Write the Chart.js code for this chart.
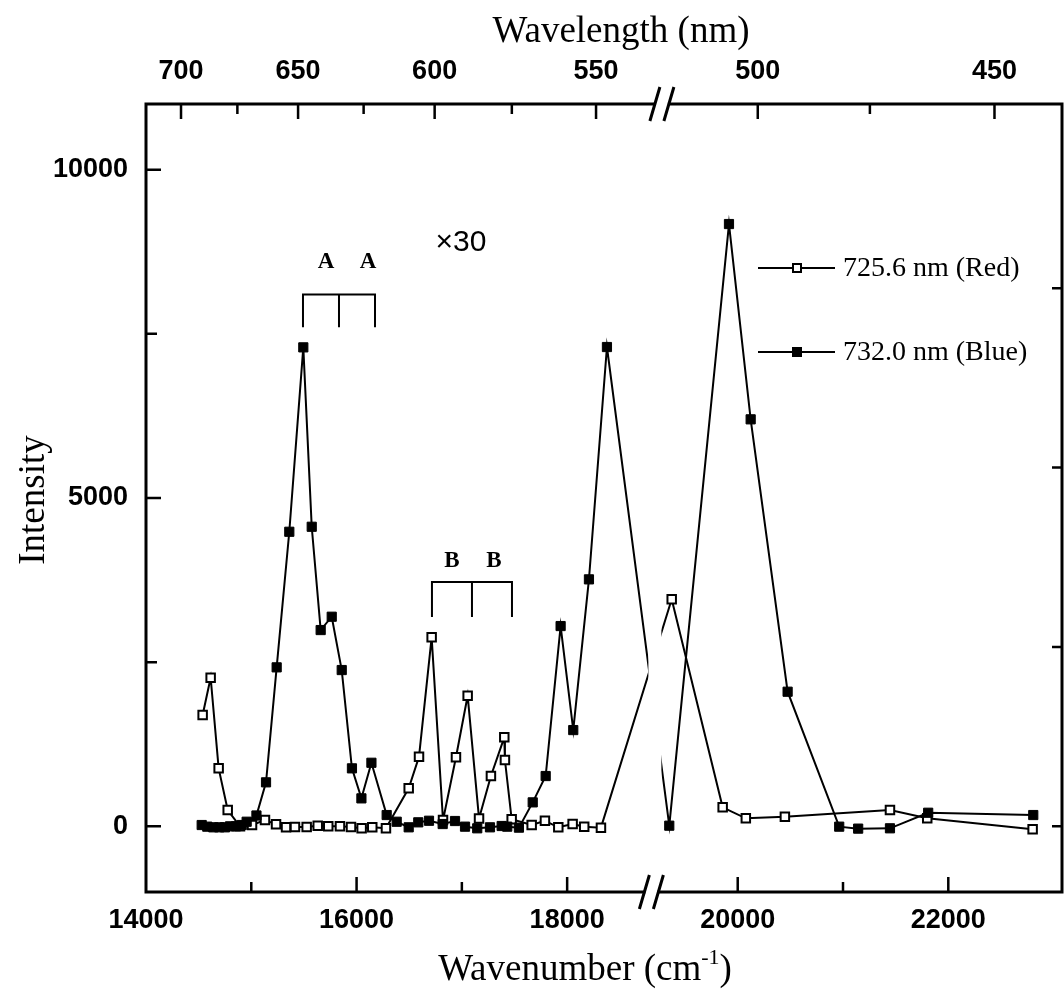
<!DOCTYPE html>
<html>
<head>
<meta charset="utf-8">
<title>Intensity vs wavenumber</title>
<script src="https://cdn.jsdelivr.net/npm/chart.js@4.4.1/dist/chart.umd.min.js"></script>
<style>
  html, body { margin: 0; padding: 0; background: #fff; }
</style>
</head>
<body>
<canvas id="spectrum" width="1064" height="996"></canvas>
<script>
// values: wavenumber (cm-1) and intensity
const redWavenumber = [14538, 14614, 14690, 14776, 14893, 15007, 15130, 15235, 15330, 15415, 15526, 15631, 15731, 15842,
    15947, 16048, 16149, 16279, 16495, 16593, 16713, 16821, 16944, 17055, 17163, 17276, 17403, 17409, 17473, 17663,
    17789, 17916, 18052, 18162, 18321, 19373, 19857, 20077, 20448, 21446, 21800, 22801];
const redIntensity = [1695, 2263, 883, 248, 0, 20, 96, 30, -15, -10, -10, 10, 0, 0,
    -10, -30, -15, -30, 579, 1060, 2878, 95, 1051, 1989, 120, 766, 1355, 1010, 107, 20,
    85, -15, 35, -5, -20, 3457, 289, 122, 146, 248, 122, -46];

const blueWavenumber = [14529, 14582, 14639, 14696, 14750, 14798, 14855, 14909, 14956, 15049, 15140, 15241, 15361, 15494,
    15574, 15659, 15764, 15859, 15956, 16046, 16141, 16286, 16381, 16495, 16586, 16688, 16818, 16935, 17030, 17146,
    17267, 17378, 17431, 17542, 17673, 17796, 17938, 18058, 18207, 18378, 19350, 19917, 20123, 20474, 20964, 21144,
    21446, 21809, 22807];
const blueIntensity = [20, -5, -15, -15, -15, 0, 0, 20, 70, 165, 670, 2421, 4486, 7294,
    4562, 2989, 3192, 2380, 883, 426, 968, 172, 70, -15, 61, 85, 35, 81, -5, -30,
    -15, 5, -5, -20, 365, 766, 3050, 1466, 3761, 7299, 10, 9172, 6198, 2050, -5, -35,
    -30, 207, 172];

// axis ticks
const bottomTicks = [14000, 15000, 16000, 17000, 18000, 20000, 21000, 22000];
const bottomLabels = [14000, 16000, 18000, 20000, 22000];
const topTicks = [700, 675, 650, 625, 600, 575, 550, 500, 475, 450]; // nm
const topLabels = [700, 650, 600, 550, 500, 450];
const leftTicks = [0, 2500, 5000, 7500, 10000];
const leftLabels = [0, 5000, 10000];
const rightTicks = [0, 2730, 5465, 8195];

// peak assignments drawn as brackets
const bracketA = [15491, 15833, 16175];
const bracketALabels = [15709, 16108];
const bracketB = [16716, 17096, 17476];
const bracketBLabels = [16906, 17305];

// the wavenumber axis is cut between 18800 and 18800 + gap
const BREAK_LO = 18800;
const BOTTOM_GAP = 380;
const TOP_GAP = 300;

function squeeze(w, gap) {
    return w > BREAK_LO ? w - gap : w;
}

function toPoints(ws, vals) {
    return ws.map((w, i) => ({ x: squeeze(w, BOTTOM_GAP), y: vals[i] }));
}

const tickFont = { family: 'Liberation Sans', size: 27, weight: 'bold' };

function drawBreak(ctx, cx, cy) {
    ctx.save();
    ctx.fillStyle = '#fff';
    ctx.fillRect(cx - 6, cy - 3, 12, 6);
    ctx.beginPath();
    ctx.moveTo(cx - 12, cy + 17);
    ctx.lineTo(cx - 2, cy - 17);
    ctx.moveTo(cx + 2, cy + 17);
    ctx.lineTo(cx + 12, cy - 17);
    ctx.stroke();
    ctx.restore();
}

const decorations = {
    id: 'decorations',
    afterDatasetsDraw(chart) {
        const { ctx, chartArea: a, scales } = chart;
        const bp = scales.x.getPixelForValue(BREAK_LO);
        ctx.save();
        ctx.fillStyle = '#fff';
        ctx.fillRect(bp - 3, a.top + 2, 13, a.bottom - a.top - 4);
        ctx.restore();
    },
    afterDraw(chart) {
        const { ctx, chartArea: a, scales } = chart;
        const { x, y, xTop, yRight } = scales;
        ctx.save();
        ctx.strokeStyle = '#000';
        ctx.lineCap = 'butt';

        // frame
        ctx.lineWidth = 3;
        ctx.strokeRect(a.left, a.top, a.right - a.left, a.bottom - a.top);

        // inward tick marks
        ctx.lineWidth = 2.5;
        ctx.beginPath();
        x.ticks.forEach(t => {
            const p = x.getPixelForValue(t.value);
            if (Math.abs(p - a.left) < 3) return;
            const len = t.label ? 15 : 10;
            ctx.moveTo(p, a.bottom);
            ctx.lineTo(p, a.bottom - len);
        });
        xTop.ticks.forEach(t => {
            const p = xTop.getPixelForValue(t.value);
            const len = t.label ? 15 : 10;
            ctx.moveTo(p, a.top);
            ctx.lineTo(p, a.top + len);
        });
        y.ticks.forEach(t => {
            const p = y.getPixelForValue(t.value);
            const len = t.label ? 15 : 11;
            ctx.moveTo(a.left, p);
            ctx.lineTo(a.left + len, p);
        });
        yRight.ticks.forEach(t => {
            const p = yRight.getPixelForValue(t.value);
            ctx.moveTo(a.right, p);
            ctx.lineTo(a.right - 10, p);
        });
        ctx.stroke();

        // axis breaks
        ctx.lineWidth = 3;
        drawBreak(ctx, x.getPixelForValue(BREAK_LO), a.bottom);
        drawBreak(ctx, xTop.getPixelForValue(BREAK_LO), a.top);

        // brackets
        ctx.fillStyle = '#000';
        ctx.lineWidth = 2;
        [[bracketA, 8100, 7600], [bracketB, 3720, 3188]].forEach(([legs, top, bottom]) => {
            const px = legs.map(w => x.getPixelForValue(w));
            const yt = y.getPixelForValue(top);
            const yb = y.getPixelForValue(bottom);
            ctx.beginPath();
            ctx.moveTo(px[0], yb);
            ctx.lineTo(px[0], yt);
            ctx.lineTo(px[2], yt);
            ctx.lineTo(px[2], yb);
            ctx.moveTo(px[1], yt);
            ctx.lineTo(px[1], yb);
            ctx.stroke();
        });
        ctx.font = 'bold 23px "Liberation Serif"';
        ctx.textAlign = 'center';
        ctx.textBaseline = 'middle';
        bracketALabels.forEach(w => ctx.fillText('A', x.getPixelForValue(w), y.getPixelForValue(8590)));
        bracketBLabels.forEach(w => ctx.fillText('B', x.getPixelForValue(w), y.getPixelForValue(4040)));

        ctx.font = '30px "Liberation Sans"';
        ctx.fillText('\u00d730', x.getPixelForValue(16992), y.getPixelForValue(8880));

        // legend
        ctx.lineWidth = 2;
        ctx.textAlign = 'left';
        ctx.font = '28px "Liberation Serif"';
        [['725.6 nm (Red)', '#fff', 268], ['732.0 nm (Blue)', '#000', 352]].forEach(([label, fill, ly]) => {
            ctx.beginPath();
            ctx.moveTo(758, ly);
            ctx.lineTo(835, ly);
            ctx.stroke();
            ctx.fillStyle = fill;
            ctx.fillRect(793, ly - 4, 8, 8);
            ctx.strokeRect(793, ly - 4, 8, 8);
            ctx.fillStyle = '#000';
            ctx.fillText(label, 843, ly + 1);
        });

        // axis titles
        ctx.font = '37px "Liberation Serif"';
        ctx.textBaseline = 'alphabetic';
        ctx.textAlign = 'center';
        ctx.fillText('Wavelength (nm)', 621, 42);

        const main = 'Wavenumber (cm';
        const wMain = ctx.measureText(main).width;
        const wParen = ctx.measureText(')').width;
        ctx.font = '22px "Liberation Serif"';
        const wSup = ctx.measureText('-1').width;
        const sx = 585 - (wMain + wSup + wParen) / 2;
        ctx.textAlign = 'left';
        ctx.font = '37px "Liberation Serif"';
        ctx.fillText(main, sx, 980);
        ctx.font = '22px "Liberation Serif"';
        ctx.fillText('-1', sx + wMain, 964);
        ctx.font = '37px "Liberation Serif"';
        ctx.fillText(')', sx + wMain + wSup, 980);

        ctx.translate(44, 500);
        ctx.rotate(-Math.PI / 2);
        ctx.textAlign = 'center';
        ctx.fillText('Intensity', 0, 0);
        ctx.restore();
    }
};

function noSidePadding(scale) {
    scale.paddingLeft = 0;
    scale.paddingRight = 0;
}

const ctx = document.getElementById('spectrum').getContext('2d');
new Chart(ctx, {
    type: 'scatter',
    data: {
        datasets: [{
            label: '732.0 nm (Blue)',
            data: toPoints(blueWavenumber, blueIntensity),
            showLine: true,
            borderColor: '#000',
            borderWidth: 2,
            pointStyle: 'rect',
            pointRadius: 6.5,
            pointBackgroundColor: '#000',
            pointBorderColor: '#000',
            pointBorderWidth: 1,
            xAxisID: 'x',
            yAxisID: 'y'
        }, {
            label: '725.6 nm (Red)',
            data: toPoints(redWavenumber, redIntensity),
            showLine: true,
            borderColor: '#000',
            borderWidth: 2,
            pointStyle: 'rect',
            pointRadius: 6,
            pointBackgroundColor: '#fff',
            pointBorderColor: '#000',
            pointBorderWidth: 2,
            xAxisID: 'x',
            yAxisID: 'y'
        }]
    },
    options: {
        responsive: false,
        animation: false,
        devicePixelRatio: 1,
        layout: { padding: 0, autoPadding: false },
        plugins: {
            legend: { display: false },
            tooltip: { enabled: false }
        },
        scales: {
            x: {
                type: 'linear',
                position: 'bottom',
                min: 14000,
                max: 22700,
                afterBuildTicks: scale => {
                    scale.ticks = bottomTicks.map(w => ({ value: squeeze(w, BOTTOM_GAP) }));
                },
                afterFit: scale => { scale.height = 104; noSidePadding(scale); },
                grid: { display: false, drawTicks: false },
                border: { display: false },
                ticks: {
                    autoSkip: false,
                    maxRotation: 0,
                    padding: 12,
                    color: '#000',
                    font: tickFont,
                    callback: (value, index) => bottomLabels.includes(bottomTicks[index]) ? String(bottomTicks[index]) : ''
                }
            },
            xTop: {
                type: 'linear',
                position: 'top',
                min: 13957,
                max: 22556,
                afterBuildTicks: scale => {
                    scale.ticks = topTicks.map(nm => ({ value: squeeze(1e7 / nm, TOP_GAP) }));
                },
                afterFit: scale => { scale.height = 104; noSidePadding(scale); },
                grid: { display: false, drawTicks: false },
                border: { display: false },
                ticks: {
                    autoSkip: false,
                    maxRotation: 0,
                    padding: 16,
                    color: '#000',
                    font: tickFont,
                    callback: (value, index) => topLabels.includes(topTicks[index]) ? String(topTicks[index]) : ''
                }
            },
            y: {
                type: 'linear',
                position: 'left',
                min: -1000,
                max: 11000,
                afterBuildTicks: scale => {
                    scale.ticks = leftTicks.map(v => ({ value: v }));
                },
                afterFit: scale => { scale.width = 146; },
                grid: { display: false, drawTicks: false },
                border: { display: false },
                ticks: {
                    autoSkip: false,
                    padding: 18,
                    color: '#000',
                    font: tickFont,
                    callback: value => leftLabels.includes(value) ? String(value) : ''
                }
            },
            yRight: {
                type: 'linear',
                position: 'right',
                min: -1000,
                max: 11000,
                afterBuildTicks: scale => {
                    scale.ticks = rightTicks.map(v => ({ value: v }));
                },
                afterFit: scale => { scale.width = 2; },
                grid: { display: false, drawTicks: false },
                border: { display: false },
                ticks: { display: false }
            }
        }
    },
    plugins: [decorations]
});
</script>
</body>
</html>
